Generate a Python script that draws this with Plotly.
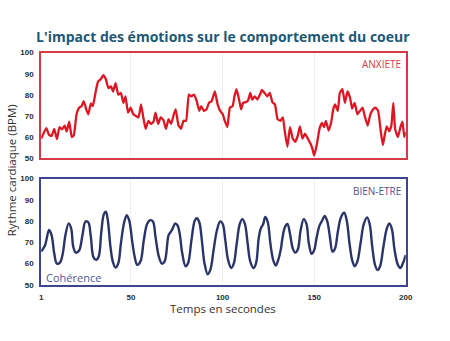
import plotly.graph_objects as go

# ---------------- data ----------------
anx_t = [1, 3.8, 5.3, 6.7, 8.1, 9.6, 11, 12.4, 13.8, 14.9, 16.3, 17.7, 18.8, 20.3, 21.7, 23.1,
         24.2, 25.6, 26.7, 28.1, 29.2, 30.6, 32, 33.5, 34.9, 36.3, 37.7, 39.1, 40.2, 41.6, 43.1,
         44.5, 45.9, 47, 48.4, 49.8, 51.3, 52.7, 54.1, 55.5, 56.6, 58, 59.5, 60.9, 62.3, 63.4,
         64.8, 66.2, 67.7, 69.1, 70.5, 71.9, 73.4, 74.4, 75.9, 77.3, 78.7, 80.1, 81.6, 83, 84.4,
         85.9, 87.3, 88.3, 89.8, 91.2, 92.6, 94, 95.8, 97.3, 98.7, 100.1, 101.2, 102.6, 104,
         105.5, 106.5, 107.6, 109, 110.1, 111.2, 112.6, 114, 115.1, 116.2, 117.6, 119, 120.4,
         121.5, 122.9, 124.4, 125.8, 127.2, 128.6, 130, 131.5, 132.9, 134, 135.4, 136.8, 138.3,
         139.7, 141.1, 142.2, 143.6, 145, 146.5, 147.9, 149, 150, 151.4, 152.9, 154.3, 155.4,
         156.4, 157.9, 159.3, 160.4, 161.4, 162.9, 164, 165.4, 166.8, 168.2, 169.6, 170.7,
         172.1, 173.6, 175, 176.4, 177.8, 179.2, 180.7, 182.1, 183.5, 184.9, 186.4, 187.5,
         188.5, 189.6, 191, 192.1, 193.2, 194.2, 195.7, 197.1, 198.2, 199.2, 200]
anx_v = [59.3, 64.2, 61, 60.5, 63.9, 59, 64.7, 63.6, 65.4, 62.6, 67.3, 60, 60.8, 70.8, 73.9, 74.7,
         77, 73.1, 70.8, 75.9, 74.7, 80.9, 86.3, 87.4, 89.4, 87.4, 83.2, 84, 81.6, 85.5, 80.1,
         80.9, 76.2, 79.3, 71.6, 73.9, 70.8, 70, 69.3, 75.5, 70, 63.9, 67.7, 66.2, 67.3, 71.6,
         66.2, 69.3, 68, 63.9, 68.5, 66.2, 70.8, 73.1, 65.7, 63.9, 67.7, 67.7, 80.1, 79.3, 80.1,
         77, 72.4, 74.7, 72.4, 73.1, 76.2, 77, 81.6, 75.5, 72.4, 70.8, 67.7, 64.7, 73.9,
         74.7, 79.3, 82.7, 77.8, 73.1, 76.2, 76.5, 77.5, 80.9, 77.8, 79.3, 77.8, 80.1,
         82.4, 80.9, 79.3, 80.9, 76.5, 75.5, 68.5, 67.7, 69.3, 62.4, 55.4, 64.7, 59.3,
         57.7, 60.8, 65.1, 59.3, 61.6, 59.3, 57, 54.6, 51.2, 56.2, 63.9, 66.7, 64.7,
         67.7, 63.1, 67, 73.1, 75.5, 72.4, 80.9, 82.7, 76.2, 81.6, 78.6, 73.5,
         76.2, 70.8, 72.4, 73.9, 69.3, 65.4, 70.8, 73.1, 73.9, 72.4, 62.4, 56.2,
         60.8, 65.1, 62.8, 65.1, 76.2, 63.8, 60, 64.7, 67.3, 60, 62.4]

coh_t = [1, 3.1, 5.3, 6.7, 8.1, 9.6, 11.3, 12.8, 14.2, 16, 17.4, 18.5, 19.9, 21.7, 23.5, 25.2,
         26.7, 28.1, 29.5, 31, 32.4, 33.8, 35.2, 36.3, 37.4, 38.8, 40.2, 41.6, 43.1, 44.5, 46.3,
         47.7, 49.1, 50.6, 52, 53.4, 55.2, 57, 58.8, 60.5, 62, 63.4, 65.2, 66.9, 68.4, 70.5,
         71.6, 72.7, 74.1, 75.5, 76.6, 78, 79.8, 81.2, 83, 84.8, 85.9, 87.3, 88.7, 90.1, 91.9,
         93.4, 95.1, 96.9, 98.7, 100.1, 101.5, 103, 104.7, 106.2, 107.6, 109.4, 110.8, 112.2,
         113.7, 115.1, 116.9, 118.3, 119.7, 120.8, 122.2, 123.3, 124.7, 126.1, 127.6, 129,
         130.4, 131.9, 132.5, 134, 135.4, 136.8, 138.3, 139.7, 141.1, 142.6, 144.3, 145.8,
         147.1, 148.6, 150, 151.4, 152.9, 154.3, 155.7, 157.1, 158.6, 160, 161.4, 162.9, 164.6,
         166.4, 167.8, 169.3, 170.7, 172.1, 173.6, 175.3, 177.1, 178.9, 180.3, 181.7, 183.2,
         184.6, 186, 187.8, 189.6, 191, 192.4, 193.9, 195.7, 197.1, 198.5, 200]
coh_v = [65.6, 68.6, 75.8, 73.2, 64.8, 59.9, 60.5, 64.8, 73.2, 78.9, 76.3, 67.9, 65.1, 66.1, 73.2,
         79.8, 79.4, 72.5, 63, 61.7, 63.3, 74.8, 83.2, 84.4, 80.1, 67.9, 60.5, 58.1, 60.2, 69.4,
         79.4, 82.8, 80.1, 70.9, 63.3, 59.4, 61, 70.9, 78.6, 80.4, 79.8, 72.5, 63.3, 59.9, 61,
         73.2, 74.8, 76.3, 78.9, 77.8, 74, 64.8, 58.7, 60.2, 70.9, 80.1, 81.3, 79.4, 70.9, 60.2,
         54.9, 57.2, 66.3, 75.5, 79.8, 78.6, 70.9, 61.7, 57.9, 60.2, 68.6, 78.6, 80.9, 78.6,
         69.4, 61, 57.9, 60.2, 71.7, 76.3, 78.6, 81.9, 79.4, 69.4, 61.7, 59,
         61.7, 67.1, 70.9, 77, 78.6, 74, 67.1, 65.1, 66.7, 75.5, 80.9, 78.6,
         69.4, 64.5, 66.3, 72.5, 77.8, 80.1, 82.4, 80.1, 72.5, 65.6, 67.1, 74.8, 81.7,
         83.9, 80.1, 69.4, 61.7, 58.7, 61, 69.4, 78.6, 81.7, 78.6, 67.9, 59.4,
         56.9, 58.7, 67.9, 76.3, 78.9, 76.3, 66.3, 59.4, 57.9, 60.2, 64]

x_ticks = [1, 50, 100, 150, 200]
y_ticks = [50, 60, 70, 80, 90, 100]

title_text = "L'impact des émotions sur le comportement du coeur"
x_title = "Temps en secondes"
y_title = "Rythme cardiaque (BPM)"
label_top = "ANXIETE"
label_bottom = "BIEN-ETRE"
label_coh = "Cohérence"

# ---------------- styling ----------------
W, H = 450, 341
RED_LINE = "#dc1622"
RED_BOX = "#d53a46"
BLUE_LINE = "#2b3468"
BLUE_BOX = "#3e4691"
TICK_FONT = dict(family="Liberation Sans, Arial", size=8, color="#2b2b2b", weight="bold")


def px(x):
    return x / W


def py(y):
    return 1 - y / H


fig = go.Figure()
fig.add_trace(go.Scatter(x=anx_t, y=anx_v, mode="lines", xaxis="x", yaxis="y",
                         line=dict(color=RED_LINE, width=2.3, shape="spline", smoothing=0.4),
                         hoverinfo="skip", showlegend=False))
fig.add_trace(go.Scatter(x=coh_t, y=coh_v, mode="lines", xaxis="x2", yaxis="y2",
                         line=dict(color=BLUE_LINE, width=2.4, shape="spline", smoothing=1.0),
                         hoverinfo="skip", showlegend=False))

xdom = [px(40), px(412)]
common_x = dict(range=[1, 200], domain=xdom, tickvals=x_ticks, showgrid=True,
                gridcolor="#efefef", gridwidth=1, zeroline=False, ticks="",
                tickfont=TICK_FONT, showline=True, mirror=True, linewidth=2,
                ticklabelstandoff=4)
common_y = dict(range=[50, 100], tickvals=y_ticks, showgrid=False, zeroline=False,
                ticks="", tickfont=TICK_FONT, showline=True, mirror=True, linewidth=2,
                ticklabelstandoff=4)

fig.update_layout(
    width=W, height=H,
    margin=dict(l=0, r=0, t=0, b=0),
    paper_bgcolor="white", plot_bgcolor="white",
    xaxis=dict(common_x, anchor="y", showticklabels=False, linecolor=RED_BOX),
    yaxis=dict(common_y, domain=[py(158.3), py(50)], anchor="x", linecolor=RED_BOX),
    xaxis2=dict(common_x, anchor="y2", showticklabels=True, linecolor=BLUE_BOX),
    yaxis2=dict(common_y, domain=[py(288.3), py(179.3)], anchor="x2", linecolor=BLUE_BOX),
    annotations=[
        dict(text="<b>" + title_text + "</b>", x=px(225), y=py(33), xref="paper", yref="paper",
             showarrow=False, font=dict(family="Open Sans, Noto Sans", size=14, color="#1d5877"),
             xanchor="center", yanchor="middle"),
        dict(text=y_title, x=px(10), y=py(171), xref="paper", yref="paper", showarrow=False,
             textangle=-90, font=dict(family="Open Sans, Noto Sans", size=11.5, color="#333333"),
             xanchor="center", yanchor="middle"),
        dict(text=x_title, x=px(226), y=py(313), xref="paper", yref="paper", showarrow=False,
             font=dict(family="Open Sans, Noto Sans", size=11.5, color="#333333"),
             xanchor="center", yanchor="middle"),
        dict(text=label_top, x=px(409), y=py(62), xref="paper", yref="paper", showarrow=False,
             font=dict(family="Open Sans, Noto Sans", size=10, color="#d3404c"),
             xanchor="right", yanchor="middle"),
        dict(text=label_bottom, x=px(409), y=py(192), xref="paper", yref="paper", showarrow=False,
             font=dict(family="Open Sans, Noto Sans", size=10, color="#4f5590"),
             xanchor="right", yanchor="middle"),
        dict(text=label_coh, x=px(43), y=py(281), xref="paper", yref="paper", showarrow=False,
             font=dict(family="Open Sans, Noto Sans", size=11, color="#4d5799"),
             xanchor="left", yanchor="middle"),
    ],
)

fig.write_html("out.html")
